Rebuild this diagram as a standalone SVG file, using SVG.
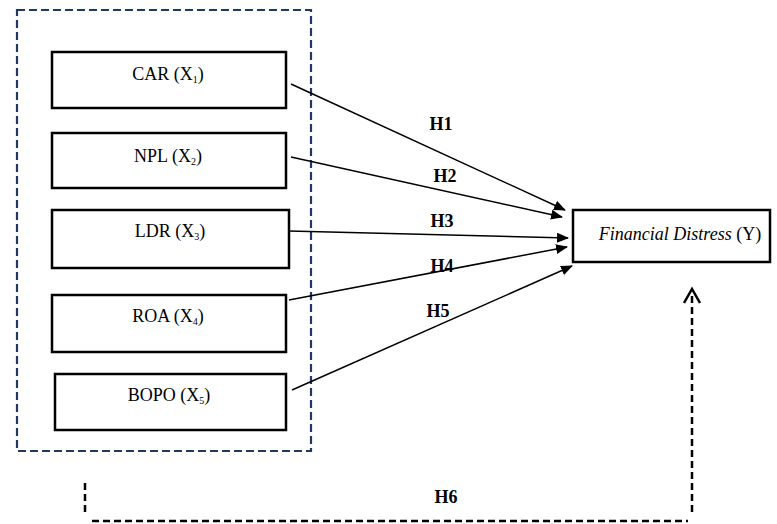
<svg xmlns="http://www.w3.org/2000/svg" width="777" height="524" viewBox="0 0 777 524">
<style>
.box{fill:#fff;stroke:#000;stroke-width:2.5}
.lbl{font-family:"Liberation Serif","DejaVu Serif","Times New Roman",serif;font-size:18px;fill:#000;text-anchor:middle}
.it{font-style:italic}
.sub{font-size:10px}
.h{font-family:"Liberation Serif","DejaVu Serif","Times New Roman",serif;font-size:18px;font-weight:bold;fill:#000;text-anchor:middle}
.arr{stroke:#000;stroke-width:1.5;fill:none;marker-end:url(#ah)}
.dash{stroke:#000;stroke-width:2.5;fill:none;stroke-dasharray:7 4}
</style>
<defs>
<marker id="ah" markerWidth="12" markerHeight="10" refX="11" refY="5" orient="auto" markerUnits="userSpaceOnUse">
<path d="M0,0 L12,5 L0,10 Z" fill="#000"/>
</marker>
</defs>
<rect x="17" y="10" width="294" height="441" fill="none" stroke="#1f3864" stroke-width="2.2" stroke-dasharray="8 4"/>
<g id="car"><rect class="box" x="52" y="52" width="234" height="56"/><text class="lbl" x="168" y="80">CAR (X<tspan class="sub" dy="3">1</tspan><tspan dy="-3">)</tspan></text></g>
<g id="npl"><rect class="box" x="52" y="133" width="234" height="55"/><text class="lbl" x="168" y="162">NPL (X<tspan class="sub" dy="3">2</tspan><tspan dy="-3">)</tspan></text></g>
<g id="ldr"><rect class="box" x="52" y="210" width="237" height="58"/><text class="lbl" x="170" y="237">LDR (X<tspan class="sub" dy="3">3</tspan><tspan dy="-3">)</tspan></text></g>
<g id="roa"><rect class="box" x="52" y="295" width="234" height="57"/><text class="lbl" x="168" y="322">ROA (X<tspan class="sub" dy="3">4</tspan><tspan dy="-3">)</tspan></text></g>
<g id="bopo"><rect class="box" x="55" y="374" width="231" height="56"/><text class="lbl" x="169" y="401">BOPO (X<tspan class="sub" dy="3">5</tspan><tspan dy="-3">)</tspan></text></g>
<g id="fd"><rect class="box" x="573" y="210" width="197" height="52"/><text class="lbl" x="680" y="240"><tspan class="it">Financial Distress</tspan> (Y)</text></g>
<g id="connectors">
<line class="arr" x1="291" y1="84" x2="565" y2="210"/>
<line class="arr" x1="291" y1="157" x2="562" y2="217"/>
<line class="arr" x1="289" y1="231" x2="568" y2="238"/>
<line class="arr" x1="289" y1="300" x2="567" y2="247"/>
<line class="arr" x1="292" y1="390" x2="572" y2="266"/>
<path class="dash" d="M85,483 V515"/>
<path class="dash" d="M92,521 H688"/>
<path class="dash" d="M692,512 V292"/>
<path d="M684,303 L692,289 L700,303" fill="none" stroke="#000" stroke-width="2.5"/>
<text class="h" x="441" y="130">H1</text>
<text class="h" x="445" y="182">H2</text>
<text class="h" x="442" y="227">H3</text>
<text class="h" x="442" y="272">H4</text>
<text class="h" x="438" y="317">H5</text>
<text class="h" x="446" y="503">H6</text>
</g>
</svg>
